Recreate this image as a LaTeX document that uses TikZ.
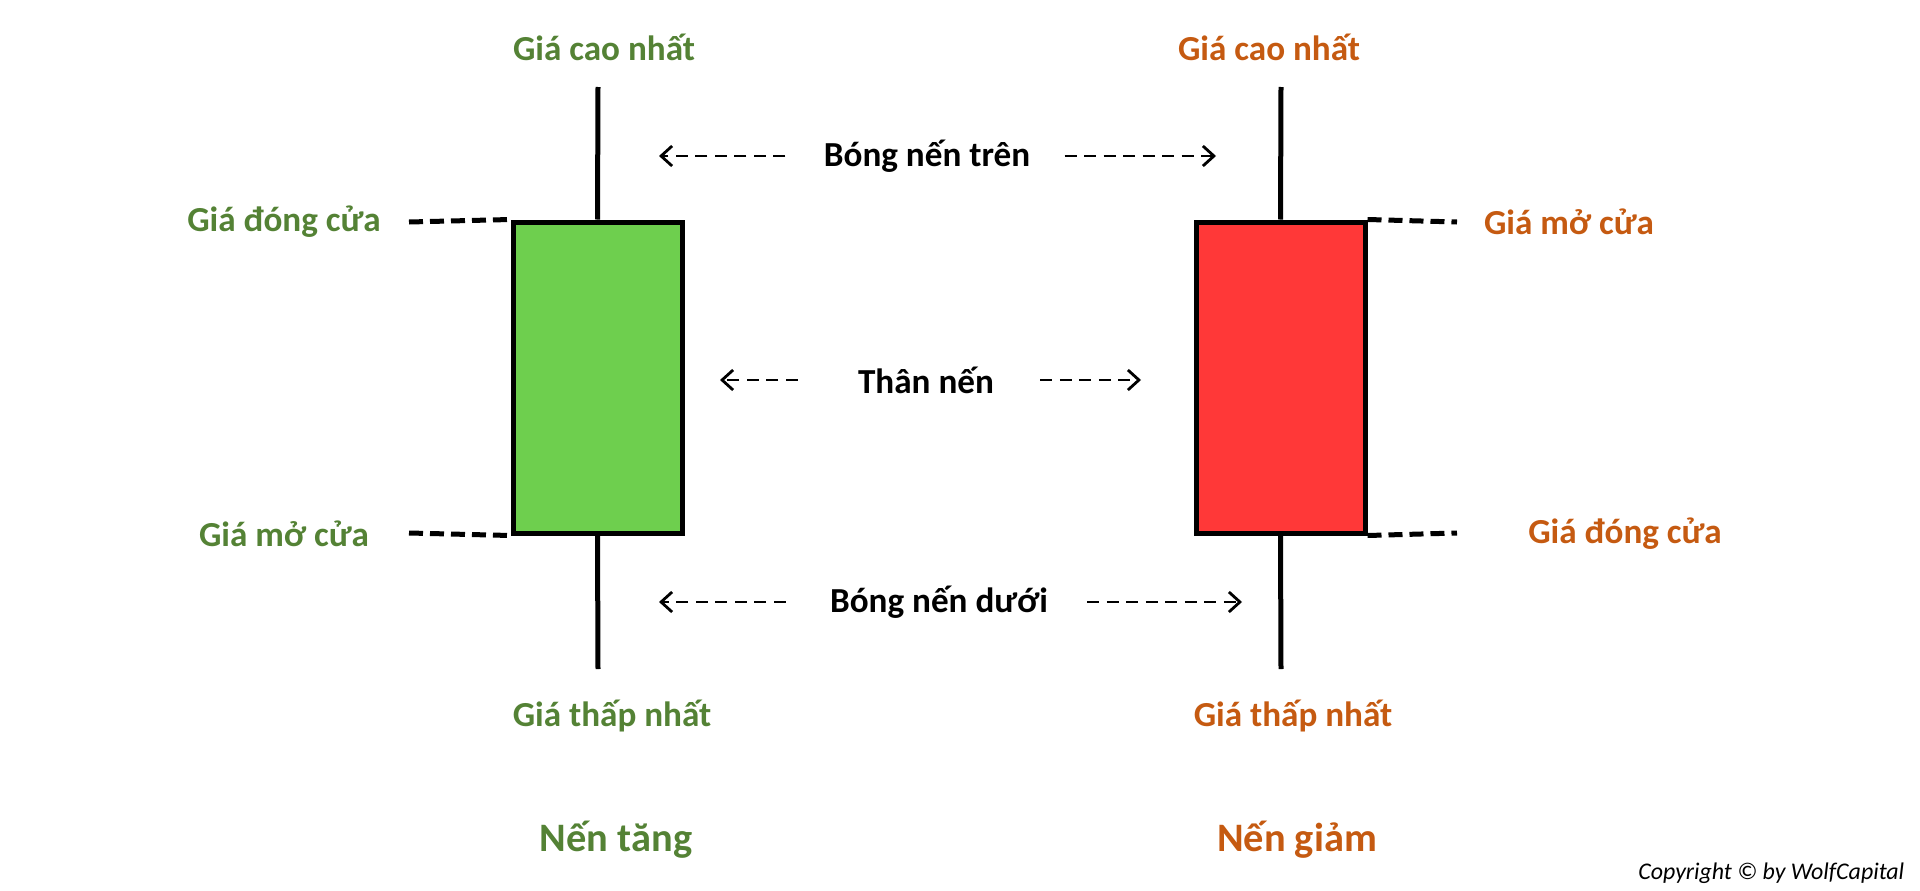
\documentclass[tikz,border=0pt]{standalone}
\usepackage{fontspec}
\setmainfont{Carlito}
\usepackage{xcolor}
\usepackage{tikz}
\usetikzlibrary{positioning,arrows.meta}

\definecolor{upgreen}{HTML}{548235}
\definecolor{downorange}{HTML}{C55A11}
\definecolor{upfill}{HTML}{6ECF4E}
\definecolor{downfill}{HTML}{FF3838}

\begin{document}
\begin{tikzpicture}[
    x=0.1mm, y=-0.1mm,
    body/.style={rectangle, draw, line width=0.5mm, minimum width=16.9mm, minimum height=31.1mm, inner sep=0pt},
    wick/.style={line width=0.5mm},
    level/.style={line width=0.5mm, dash pattern=on 1.4mm off 0.7mm},
    pointer/.style={line width=0.28mm, dash pattern=on 1.2mm off 0.75mm, -{Straight Barb[length=1.1mm, width=2mm, line width=0.28mm]}},
    uplabel/.style={text=upgreen, font=\fontsize{10}{12}\selectfont\bfseries},
    downlabel/.style={text=downorange, font=\fontsize{10}{12}\selectfont\bfseries},
    midlabel/.style={font=\fontsize{10}{12}\selectfont\bfseries},
    title/.style={font=\fontsize{11.5}{14}\selectfont\bfseries}
]
    \useasboundingbox (0,0) rectangle (1920,891);

    % Candles
    \node[body, fill=upfill] (upbody) at (597.5,377.5) {};
    \node[body, fill=downfill] (downbody) at (1280.5,377.5) {};

    \coordinate (uphigh) at (598,87);
    \coordinate (uplow) at (598,669);
    \coordinate (downhigh) at (1281,87);
    \coordinate (downlow) at (1281,669);

    \draw[wick] (uphigh) -- (upbody.north);
    \draw[wick] (upbody.south) -- (uplow);
    \draw[wick] (downhigh) -- (downbody.north);
    \draw[wick] (downbody.south) -- (downlow);

    % Price levels
    \coordinate (upclose) at (409,222);
    \coordinate (upopen) at (409,533);
    \coordinate (downopen) at (1457,222);
    \coordinate (downclose) at (1457,533);

    \draw[level] (upclose) -- (upbody.north west);
    \draw[level] (upopen) -- (upbody.south west);
    \draw[level] (downbody.north east) -- (downopen);
    \draw[level] (downbody.south east) -- (downclose);

    % Labels
    \node[uplabel] (uphighlbl) at (604,47) {Giá cao nhất};
    \node[uplabel] (upcloselbl) at (284,222) {Giá đóng cửa};
    \node[uplabel] (upopenlbl) at (284,534) {Giá mở cửa};
    \node[uplabel] (uplowlbl) at (612,716) {Giá thấp nhất};
    \node[uplabel, title] (uptitle) at (616,840) {Nến tăng};

    \node[downlabel] (downhighlbl) at (1269,47) {Giá cao nhất};
    \node[downlabel] (downopenlbl) at (1569,222) {Giá mở cửa};
    \node[downlabel] (downcloselbl) at (1625,534) {Giá đóng cửa};
    \node[downlabel] (downlowlbl) at (1293,716) {Giá thấp nhất};
    \node[downlabel, title] (downtitle) at (1297,840) {Nến giảm};

    \node[midlabel] (uppershadow) at (927,156) {Bóng nến trên};
    \node[midlabel] (realbody) at (926,380) {Thân nến};
    \node[midlabel] (lowershadow) at (939,602) {Bóng nến dưới};

    % Arrows
    \coordinate (uppershadowL) at (659,156);
    \coordinate (uppershadowR) at (1216,156);
    \coordinate (realbodyL) at (720,380);
    \coordinate (realbodyR) at (1141,380);
    \coordinate (lowershadowL) at (659,602);
    \coordinate (lowershadowR) at (1242,602);

    \draw[pointer, shorten <=2.6mm] (uppershadow) -- (uppershadowL);
    \draw[pointer, shorten <=2.2mm] (uppershadow) -- (uppershadowR);
    \draw[pointer, shorten <=4.8mm] (realbody) -- (realbodyL);
    \draw[pointer, shorten <=3.4mm] (realbody) -- (realbodyR);
    \draw[pointer, shorten <=3.2mm] (lowershadow) -- (lowershadowL);
    \draw[pointer, shorten <=2.7mm] (lowershadow) -- (lowershadowR);

    \node[anchor=east, inner sep=0pt, font=\fontsize{6.8}{8}\selectfont\itshape] (copyright) at (1905,873) {Copyright © by WolfCapital};
\end{tikzpicture}
\end{document}
